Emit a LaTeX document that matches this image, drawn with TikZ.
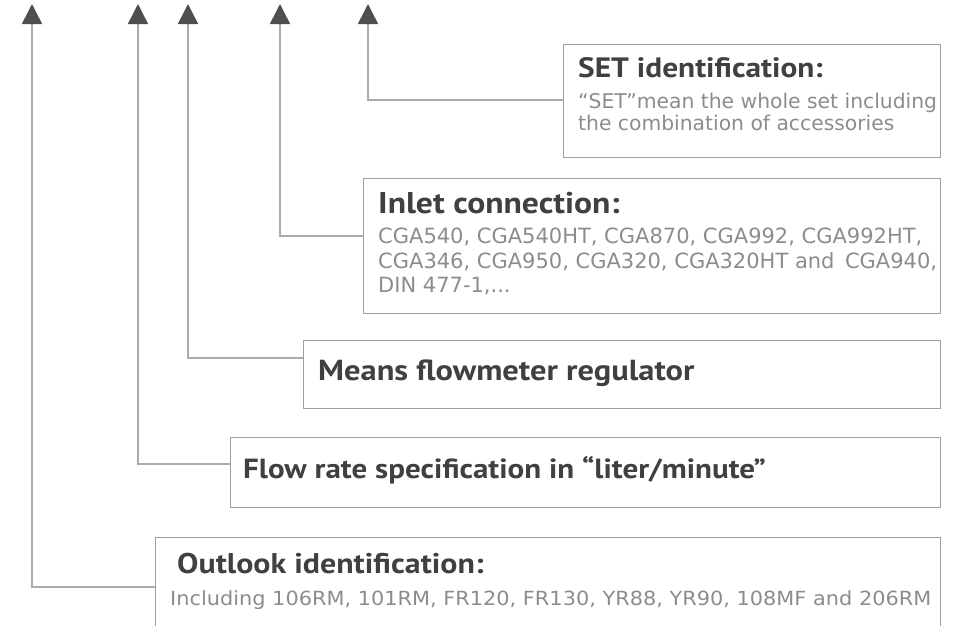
\documentclass[tikz,border=0pt]{standalone}
\usepackage{fontspec}
\usetikzlibrary{arrows.meta}
\newfontfamily\headfont[FakeStretch=1.12]{PT Sans}
\newfontfamily\bodyfont{DejaVu Sans}
\newfontfamily\widefont[FakeStretch=1.07]{DejaVu Sans}
\definecolor{linegray}{HTML}{ABABAB}
\definecolor{boxgray}{HTML}{A0A0A0}
\definecolor{tipgray}{HTML}{4F4F4F}
\definecolor{headgray}{HTML}{404040}
\definecolor{bodygray}{HTML}{8C8C8C}
\newcommand{\headsize}[1]{\headfont\bfseries\fontsize{#1}{#1}\selectfont}
\tikzset{
  infobox/.style={draw=boxgray, line width=1.2pt, anchor=north west, inner sep=0pt},
  headtext/.style={anchor=base west, inner sep=0pt, text=headgray, font=\headsize{28}},
  bodytext/.style={anchor=base west, inner sep=0pt, text=bodygray, font=\bodyfont\fontsize{20.3}{24}\selectfont},
  inlettext/.style={bodytext, font=\bodyfont\fontsize{21}{24}\selectfont},
  conn/.style={draw=linegray, line width=1.5pt, -{Triangle[length=20pt,width=20pt,color=tipgray]}}
}
\begin{document}
\begin{tikzpicture}[x=1pt,y=-1pt]
\useasboundingbox (0,0) rectangle (953,625);

% Arrow tips
\coordinate (tipA) at (32,4);
\coordinate (tipB) at (138,4);
\coordinate (tipC) at (188,4);
\coordinate (tipD) at (280,4);
\coordinate (tipE) at (368,4);

% Boxes
\node (setbox) [infobox, minimum width=377pt, minimum height=113pt] at (563,44) {};
\node (inletbox) [infobox, minimum width=577pt, minimum height=135pt] at (363,178) {};
\node (meansbox) [infobox, minimum width=637pt, minimum height=68pt] at (303,340) {};
\node (flowbox) [infobox, minimum width=710pt, minimum height=70pt] at (230,437) {};
\node (outlookbox) [infobox, minimum width=785pt, minimum height=110pt] at (155,537) {};

% Text Nodes
\node (settitle) [headtext] at (578,77) {SET identification:};
\node (setline1) [bodytext] at (578,108) {“SET”mean the whole set including};
\node (setline2) [bodytext] at (578,130) {the combination of accessories};

\node (inlettitle) [headtext, font=\headsize{30}] at (378,213) {Inlet connection:};
\node (inletline1) [inlettext] at (378,243) {CGA540, CGA540HT, CGA870, CGA992, CGA992HT,};
\node (inletline2) [inlettext] at (378,268) {CGA346, CGA950, CGA320, CGA320HT and\hspace{0.5em}CGA940,};
\node (inletline3) [inlettext] at (378,292) {DIN 477-1,...};

\node (meanstitle) [headtext, font=\headsize{29}] at (318,380) {Means flowmeter regulator};

\node (flowtitle) [headtext, font=\headsize{27.7}] at (243,478) {Flow rate specification in “liter/minute”};

\node (outlooktitle) [headtext, font=\headsize{28.5}] at (177,573) {Outlook identification:};
\node (outlookline) [bodytext, font=\widefont\fontsize{19.5}{22}\selectfont] at (170,605) {Including 106RM, 101RM, FR120, FR130, YR88, YR90, 108MF and 206RM};

% Connectors
\coordinate (setend) at ([yshift=-56pt]setbox.north west);
\coordinate (inletend) at ([yshift=-58pt]inletbox.north west);
\coordinate (meansend) at ([yshift=-18pt]meansbox.north west);
\coordinate (flowend) at ([yshift=-27pt]flowbox.north west);
\coordinate (outlookend) at ([yshift=-50pt]outlookbox.north west);

\draw[conn] (setend) -| (tipE);
\draw[conn] (inletend) -| (tipD);
\draw[conn] (meansend) -| (tipC);
\draw[conn] (flowend) -| (tipB);
\draw[conn] (outlookend) -| (tipA);

\end{tikzpicture}
\end{document}
